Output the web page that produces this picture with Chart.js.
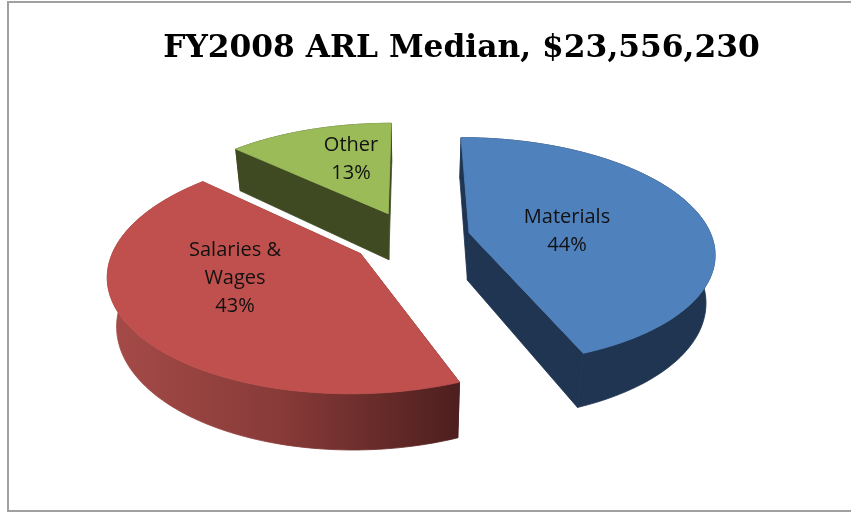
<!DOCTYPE html>
<html><head><meta charset="utf-8">
<style>html,body{margin:0;padding:0;background:#fff}canvas{display:block}</style>
<script src="https://cdn.jsdelivr.net/npm/chart.js@4"></script></head>
<body><canvas id="c" width="851" height="512"></canvas>
<script>
const titleText = 'FY2008 ARL Median, $23,556,230';
const categories = ['Materials', 'Salaries & Wages', 'Other'];
const shares = [44, 43, 13];
const topColors = ['#4f81bd', '#c0504d', '#9bbb59'];
const sideColors = ['#1f3552', null, '#3f4a22'];
const labelLines = [['Materials', '44%'], ['Salaries &', 'Wages', '43%'], ['Other', '13%']];

const view = {cx: 411, cy: 238, c: 243, a: 112, b: 0.16, h: 49, k: 0.06, g: 0.03, explode: 0.245};
const labelSpots = [[567, 217], [235, 250], [351, 145]];
const labelGap = 28;

function project(X, Y, z) {
  const w = 1 + view.b * Y + view.g * z;
  return [view.cx + view.c * X / w, view.cy + (-view.a * Y + view.h * (1 - view.k * Y) * z) / w];
}
function trace(ctx, pts) {
  ctx.beginPath();
  pts.forEach((p, i) => i ? ctx.lineTo(p[0], p[1]) : ctx.moveTo(p[0], p[1]));
  ctx.closePath();
}
const pie3d = {
  id: 'pie3d',
  beforeDraw(chart) {
    const ctx = chart.ctx;
    ctx.save();
    ctx.fillStyle = '#fff';
    ctx.fillRect(0, 0, chart.width, chart.height);
    ctx.strokeStyle = '#a0a0a0';
    ctx.lineWidth = 2;
    ctx.strokeRect(8, 2, chart.width, chart.height - 3);
    ctx.restore();
  },
  beforeDatasetsDraw(chart) {
    const ctx = chart.ctx;
    const arcs = chart.getDatasetMeta(0).data;
    ctx.save();
    ctx.lineJoin = 'round';
    ctx.lineWidth = 0.8;
    [2, 1, 0].forEach(i => {
      const el = arcs[i];
      const s = el.startAngle + Math.PI / 2, e = el.endAngle + Math.PI / 2;
      const m = (s + e) / 2;
      const ox = view.explode * Math.sin(m), oy = view.explode * Math.cos(m);
      const rim = [];
      const n = 90;
      for (let k = 0; k <= n; k++) {
        const t = s + (e - s) * k / n;
        rim.push([ox + Math.sin(t), oy + Math.cos(t)]);
      }
      const top = rim.map(p => project(p[0], p[1], 0));
      const bot = rim.map(p => project(p[0], p[1], 1));
      const at = project(ox, oy, 0), ab = project(ox, oy, 1);
      let side = sideColors[i];
      if (!side) {
        side = ctx.createLinearGradient(110, 0, 458, 0);
        side.addColorStop(0, '#a54b48');
        side.addColorStop(0.5, '#873a38');
        side.addColorStop(1, '#4d1f1e');
      }
      ctx.fillStyle = side;
      ctx.strokeStyle = side;
      [[at, top[0], bot[0], ab], [at, top[n], bot[n], ab], top.concat(bot.slice().reverse())].forEach(face => {
        trace(ctx, face); ctx.fill(); ctx.stroke();
      });
      ctx.fillStyle = topColors[i];
      ctx.strokeStyle = topColors[i];
      trace(ctx, [at].concat(top)); ctx.fill(); ctx.stroke();
    });
    ctx.fillStyle = '#111';
    ctx.font = '20px "Open Sans"';
    ctx.textAlign = 'center';
    ctx.textBaseline = 'middle';
    labelLines.forEach((lines, i) => lines.forEach((t, j) => {
      ctx.fillText(t, labelSpots[i][0], labelSpots[i][1] + j * labelGap);
    }));
    ctx.restore();
    return false;
  }
};
new Chart(document.getElementById('c'), {
  type: 'pie',
  data: {labels: categories, datasets: [{data: shares, backgroundColor: topColors}]},
  plugins: [pie3d],
  options: {
    responsive: false, animation: false,
    layout: {padding: {left: 72, top: 30}},
    plugins: {
      legend: {display: false},
      tooltip: {enabled: false},
      title: {display: true, text: titleText, color: '#000',
        font: {family: '"DejaVu Serif"', size: 31.3, weight: 'bold'}, padding: 0}
    }
  }
});
</script></body></html>
